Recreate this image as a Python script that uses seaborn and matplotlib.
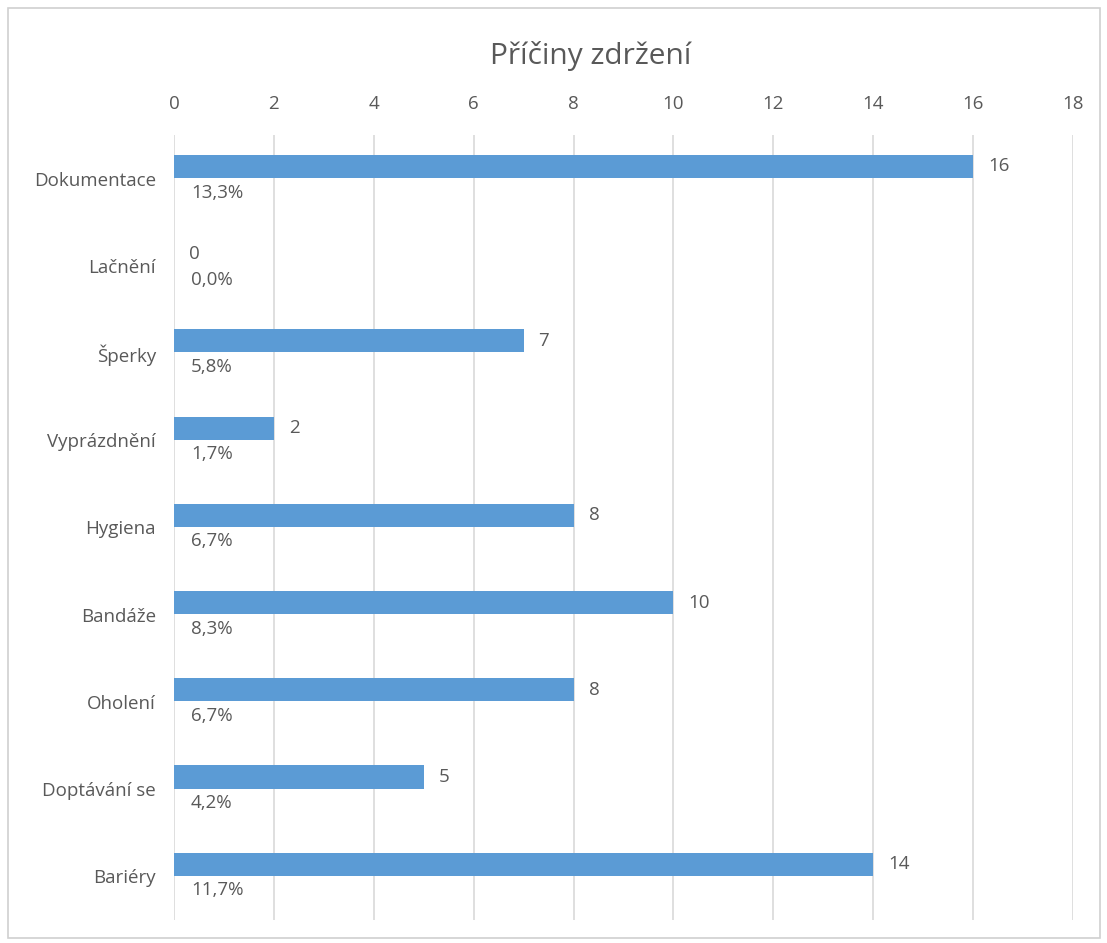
import matplotlib
matplotlib.use("Agg")
import matplotlib.pyplot as plt
import seaborn as sns
import pandas as pd
from matplotlib.patches import Rectangle

categories = ["Dokumentace", "Lačnění", "Šperky", "Vyprázdnění", "Hygiena",
              "Bandáže", "Oholení", "Doptávání se", "Bariéry"]
counts = [16, 0, 7, 2, 8, 10, 8, 5, 14]
percents = [13.3, 0.0, 5.8, 1.7, 6.7, 8.3, 6.7, 4.2, 11.7]
x_ticks = [0, 2, 4, 6, 8, 10, 12, 14, 16, 18]
title = "Příčiny zdržení"

BAR = "#5B9BD5"
TXT = "#595959"
GRID = "#D9D9D9"
FS = 13.5

sns.set_theme(style="white")
plt.rcParams["font.family"] = ["Open Sans", "DejaVu Sans"]

df = pd.DataFrame({"cat": categories, "count": counts})

fig = plt.figure(figsize=(11.07, 9.43), dpi=100)
W, H = 1107, 943
ax = fig.add_axes([174 / W, 1 - 920 / H, (1073 - 174) / W, (920 - 135) / H])

sns.barplot(data=df, x="count", y="cat", order=categories, color=BAR,
            width=0.265, saturation=1, ax=ax, orient="h", linewidth=0)

ax.set_xlim(0, 18)
ax.set_ylim(8.64, -0.36)
ax.set_xticks(x_ticks)
ax.set_xticklabels([str(t) for t in x_ticks])
ax.xaxis.tick_top()
ax.set_yticks([i + 0.14 for i in range(len(categories))])
ax.set_yticklabels(categories)
ax.tick_params(axis="x", colors=TXT, labelsize=FS, length=0, pad=16)
ax.tick_params(axis="y", colors=TXT, labelsize=FS, length=0, pad=13)
for lab in ax.get_xticklabels() + ax.get_yticklabels():
    lab.set_color(TXT)
ax.set_xlabel("")
ax.set_ylabel("")
for s in ax.spines.values():
    s.set_visible(False)
ax.grid(axis="x", color=GRID, linewidth=1.2)
ax.set_axisbelow(True)

for i, (c, p) in enumerate(zip(counts, percents)):
    ax.text(c + 0.3, i, str(c), va="center", ha="left", fontsize=FS, color=TXT)
    ax.text(0.34, i + 0.3, f"{p:.1f}%".replace(".", ","), va="center", ha="left",
            fontsize=FS, color=TXT)

fig.text(591 / W, 1 - 56 / H, title, ha="center", va="center", fontsize=21.5, color=TXT)

fig.patches.append(Rectangle((8 / W, 1 - 938 / H), (1100 - 8) / W, (938 - 8) / H,
                             transform=fig.transFigure, fill=False,
                             edgecolor="#D0D0D0", linewidth=1.2))

fig.savefig("out.png", dpi=100, facecolor="white")
